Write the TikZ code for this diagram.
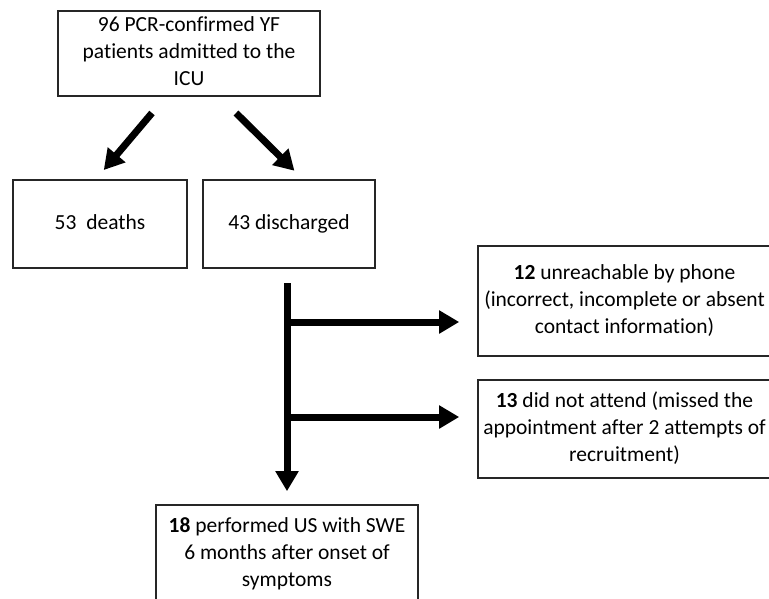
\documentclass[tikz,border=0pt]{standalone}
\usepackage{fontspec}
\setmainfont{Carlito}[Ligatures=CommonOff]
\usetikzlibrary{arrows.meta,calc}
\tikzset{
  box/.style={draw=black!85, line width=1.6pt, rectangle, align=center, inner sep=2pt,
    font=\fontsize{21.5}{27}\selectfont},
  fat/.style={line width=7pt, -{Triangle[length=20pt,width=22pt]}}
}
\begin{document}
\begin{tikzpicture}[x=1pt,y=-1pt]
\useasboundingbox (0,0) rectangle (769,598);
\clip (0,0) rectangle (769,598);
\node[box, minimum width=262pt, minimum height=83pt] (top) at (189,53.5)
  {\strut 96 PCR-confirmed YF\\patients admitted to the\\ICU\strut};
\node[box, minimum width=174pt, minimum height=88pt] (deaths) at (100,224) {\strut 53\ \ deaths};
\node[box, minimum width=172pt, minimum height=88pt] (disch) at (289,224) {\strut 43 discharged};
\node[box, minimum width=293pt, minimum height=110pt] (n12) at (624.5,301)
  {\strut\textbf{12} unreachable by phone\\(incorrect, incomplete or absent\\contact information)\strut};
\node[box, minimum width=293pt, minimum height=98pt] (n13) at (624.5,429)
  {\strut\textbf{13} did not attend (missed the\\appointment after 2 attempts of\\recruitment)\strut};
\node[box, minimum width=262pt, minimum height=98pt] (bot) at (287,554)
  {\strut\textbf{18} performed US with SWE\\6 months after onset of\\symptoms\strut};
\coordinate (s1) at (152,113);
\coordinate (s2) at (236,113);
\coordinate (vtop) at (287,283);
\coordinate (br1) at (287,322);
\coordinate (br2) at (287,417);
\draw[fat, shorten >=12pt] (s1) -- ([xshift=-4pt]deaths.north);
\draw[fat, shorten >=12pt] (s2) -- ([xshift=14pt]disch.north);
\draw[fat, shorten >=13pt] (vtop) -- (bot.north);
\draw[fat, shorten >=18pt] (br1) -- (br1 -| n12.west);
\draw[fat, shorten >=18pt] (br2) -- (br2 -| n13.west);
\end{tikzpicture}
\end{document}
